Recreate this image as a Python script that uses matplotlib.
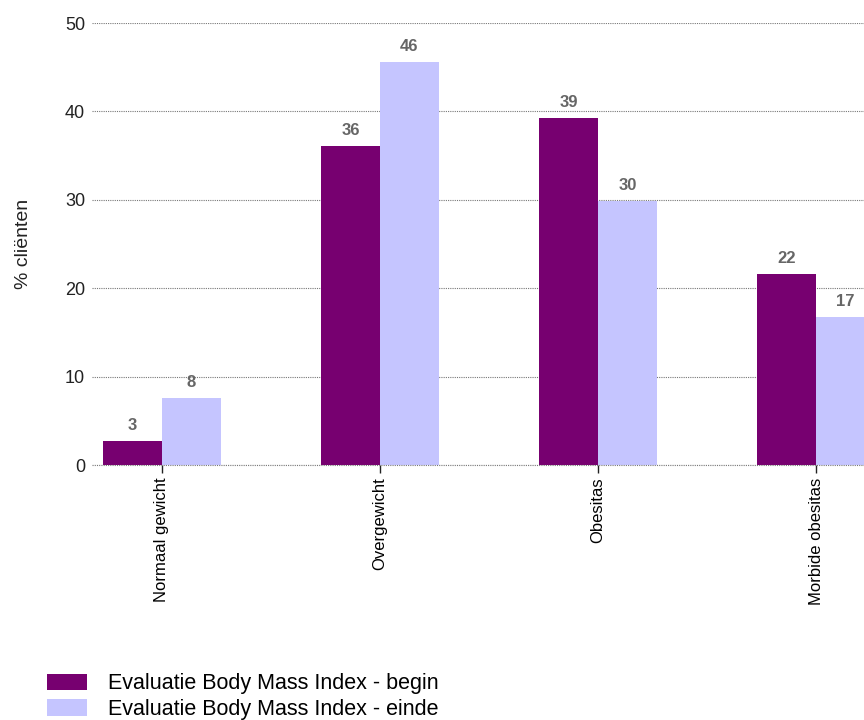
import numpy as np
import matplotlib.pyplot as plt
from matplotlib.patches import Patch

plt.rcParams['font.family'] = ['Liberation Sans', 'DejaVu Sans']

# data
categories = ['Normaal gewicht', 'Overgewicht', 'Obesitas', 'Morbide obesitas']
begin = [2.7, 36.1, 39.3, 21.6]
einde = [7.6, 45.6, 29.9, 16.7]
series_names = ['Evaluatie Body Mass Index - begin', 'Evaluatie Body Mass Index - einde']
colors = ['#770070', '#C5C5FF']

W, H = 864, 720
fig = plt.figure(figsize=(W / 100, H / 100), dpi=100)
# axes runs past the right edge, as in the reference
ax = fig.add_axes([92 / W, 1 - 465 / H, (886 - 92) / W, (465 - 23) / H])

x = np.arange(len(categories))
bw = 0.27
b1 = ax.bar(x - bw / 2, begin, bw, color=colors[0], zorder=3)
b2 = ax.bar(x + bw / 2, einde, bw, color=colors[1], zorder=3)

for bars in (b1, b2):
    for r in bars:
        v = r.get_height()
        ax.text(r.get_x() + r.get_width() / 2, v + 0.9, f'{v:.0f}',
                ha='center', va='bottom', fontsize=12, fontweight='bold', color='#666666')

ax.set_xlim(-0.321, 3.321)
ax.set_ylim(0, 50)
ax.set_yticks([0, 10, 20, 30, 40, 50])
ax.yaxis.grid(True, linestyle=(0, (1, 1)), color='#777777', linewidth=0.8, zorder=0)
ax.axhline(0, linestyle=(0, (1, 1)), color='#777777', linewidth=0.8, zorder=4, clip_on=False)
for s in ax.spines.values():
    s.set_visible(False)
ax.tick_params(axis='y', length=0, labelsize=13, pad=5, labelcolor='#222222')
ax.set_xticks(x)
ax.set_xticklabels(categories, rotation=90, fontsize=12)
ax.tick_params(axis='x', length=6, width=1, color='#222222', pad=3)
ax.set_ylabel('% cliënten', fontsize=14, color='#222222', labelpad=24)

handles = [Patch(facecolor=c, edgecolor='none') for c in colors]
fig.legend(handles, series_names, loc='lower left', bbox_to_anchor=(34 / W, -13 / H),
           frameon=False, fontsize=15.5, handlelength=1.85, handleheight=0.8,
           handletextpad=1.0, labelspacing=0.22, borderaxespad=0.2)

fig.savefig('out.png', dpi=100)
